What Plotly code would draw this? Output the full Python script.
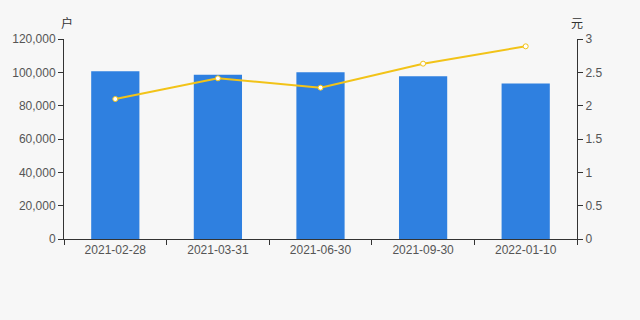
import plotly.graph_objects as go

categories = ["2021-02-28", "2021-03-31", "2021-06-30", "2021-09-30", "2022-01-10"]
holders = [100600, 98500, 100100, 97600, 93300]
avg_value = [2.10, 2.41, 2.27, 2.63, 2.89]

bar_color = "#2f80e0"
line_color = "#f2c318"
axis_color = "#333333"
font_family = "Liberation Sans, Arial, Noto Sans CJK SC, sans-serif"

fig = go.Figure()
fig.add_trace(go.Bar(x=categories, y=holders, marker=dict(color=bar_color, line=dict(width=0)),
                     name="户", yaxis="y"))
fig.add_trace(go.Scatter(x=categories, y=avg_value, mode="lines+markers", yaxis="y2",
                         line=dict(color=line_color, width=2),
                         marker=dict(size=5, color="white", line=dict(color=line_color, width=1)),
                         name="元"))

fig.update_layout(
    width=640, height=320,
    margin=dict(l=64, r=63, t=39, b=81),
    paper_bgcolor="#f7f7f7", plot_bgcolor="#f7f7f7",
    showlegend=False,
    bargap=0.53,
    font=dict(family=font_family, size=12, color="#555555"),
    xaxis=dict(type="category", showgrid=False, showline=True, linecolor=axis_color, linewidth=1,
               ticks="outside", tickson="boundaries", ticklen=5, tickcolor=axis_color,
               tickfont=dict(size=12, color="#555555"), zeroline=False),
    yaxis=dict(range=[0, 120000], dtick=20000, tickformat=",d", showgrid=False, showline=True,
               linecolor=axis_color, linewidth=1, ticks="outside", ticklen=5, tickcolor=axis_color,
               zeroline=False, tickfont=dict(size=12, color="#555555")),
    yaxis2=dict(range=[0, 3], dtick=0.5, overlaying="y", side="right", showgrid=False, showline=True,
                linecolor=axis_color, linewidth=1, ticks="outside", ticklen=5, tickcolor=axis_color,
                zeroline=False, tickfont=dict(size=12, color="#555555")),
    annotations=[
        dict(text="户", x=0, xref="paper", xanchor="left", xshift=-5, y=1, yref="paper", yanchor="bottom",
             yshift=6, showarrow=False, font=dict(size=12, color="#333333", family=font_family)),
        dict(text="元", x=1, xref="paper", xanchor="center", xshift=0, y=1, yref="paper", yanchor="bottom",
             yshift=6, showarrow=False, font=dict(size=12, color="#333333", family=font_family)),
    ],
)

fig.write_html("out.html")
